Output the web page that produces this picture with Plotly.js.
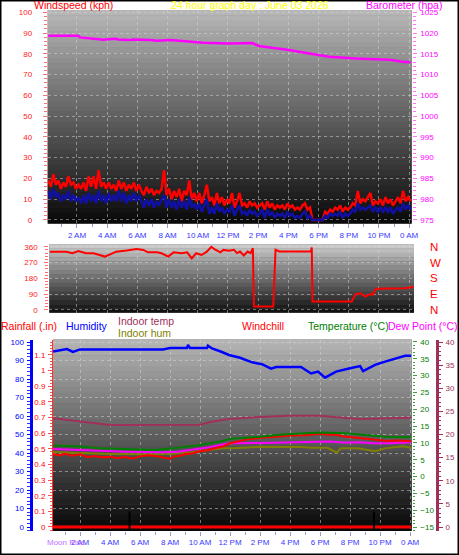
<!DOCTYPE html>
<html><head><meta charset="utf-8">
<script src="https://cdn.plot.ly/plotly-3.0.1.min.js"></script>
<style>html,body{margin:0;padding:0;background:#fff;}#chart{width:459px;height:555px;}</style>
</head><body><div id="chart"></div>
<script>
// ---------- data ----------
const hourTicks = [2,4,6,8,10,12,14,16,18,20,22,24];
const hourLabels = ['2 AM','4 AM','6 AM','8 AM','10 AM','12 PM','2 PM','4 PM','6 PM','8 PM','10 PM','0 AM'];

// wind speed, 10-minute samples starting 00:06
const windStart = 0.1, windStepH = 1/6;
const windGust = [
19,16,22,17,19,15,18,16,21,17,18,15,
17,15,18,14,21,16,21,15,24,16,18,15,
18,15,17,14,19,15,18,14,17,15,18,14,
17,14,12,16,13,15,12,14,13,15,24,12,
15,10,14,11,15,9,14,12,19,10,13,9,
13,8,12,17,9,11,7,13,8,11,7,10,
8,13,6,9,13,7,8,6,9,7,8,6,
7,8,5,9,6,8,5,7,6,7,5,8,
6,7,5,6,5,7,8,5,6,0,0,0,
0,0,4,3,5,4,6,5,7,4,6,5,
6,8,7,14,8,10,9,11,13,7,9,8,
10,7,11,8,10,7,9,11,8,14,9,11,
9];
const windAvg = [
14,10,15,11,13,9,12,10,14,9,12,9,
11,8,12,8,13,9,12,8,14,9,12,8,
13,9,12,9,14,9,13,8,12,9,13,9,
12,9,6,10,7,10,6,9,7,10,12,6,
10,6,9,5,10,6,9,5,11,6,8,5,
8,4,7,10,3,6,3,8,4,6,3,5,
4,7,2,5,7,3,4,2,5,3,4,2,
3,5,1,5,2,4,1,3,2,3,1,4,
2,3,1,2,1,3,4,1,2,0,0,0,
0,0,2,1,3,2,3,2,4,1,3,2,
3,5,4,8,5,6,5,6,7,4,6,4,
6,4,6,4,6,3,5,6,4,8,5,7,
5];
const windTime = windGust.map((_, i) => windStart + i * windStepH);

const baroTime = [0.1,2.09,2.2,3.19,3.74,4.52,4.74,5.4,5.73,6.83,7.28,8.16,8.82,9.7,10.36,12.07,13.6,14.05,14.93,16.04,16.7,17.36,18.25,18.69,20.46,22.66,23.54,24.1];
const baroVal  = [1019.36,1019.36,1018.95,1018.6,1018.4,1018.6,1018.45,1018.3,1018.45,1018.3,1018.15,1018.3,1018.1,1017.9,1017.67,1017.5,1017.6,1016.9,1016.5,1015.9,1015.5,1015.1,1014.7,1014.3,1013.9,1013.6,1013.1,1013.0];

const dirTime = [0.2,1.3,1.7,2.1,2.6,3.1,3.5,3.85,4.2,4.6,5.3,5.95,6.4,6.7,7.3,7.6,8.05,8.4,8.93,9.3,9.6,9.9,10.25,10.6,10.9,11.1,11.5,11.7,12.07,12.4,12.6,12.8,13.05,13.3,13.5,13.65,13.72,15.0,15.15,15.4,17.5,17.55,17.6,20.2,20.45,20.75,21.1,21.4,21.6,21.8,23.7,24.3];
const dirVal  = [332,332,323,336,323,323,313,304,317,332,338,347,342,328,328,323,304,328,323,328,294,323,313,332,360,347,328,342,337,343,324,333,310,333,324,352,19,19,343,333,333,356,48,48,90,95,76,90,86,120,124,130];
const compassVals = [0,90,180,270,360];
const compassText = ['N','E','S','W','N'];

const humTime = [0.2,1.13,1.53,2.0,7.53,8.0,9.13,9.2,9.33,10.47,10.53,10.8,11.33,11.93,12.67,13.47,14.13,14.73,15.07,16.73,17.4,17.87,18.33,19.07,20.0,20.67,20.87,21.67,22.33,23.0,23.67,24.07];
const humVal  = [94.8,96.2,94.6,96,96,96.8,96.8,98.4,96.8,96.8,98,96.5,95,93,91.5,89,88,85.6,86.5,86.5,83,84,80.7,84,85.8,87,84.3,87.6,89.4,91.2,92.6,92.6];

const inTempTime = [0.2,1.33,2.67,4.0,10.0,10.67,11.93,14.0,16.0,18.0,19.3,20.67,22.67,24.07];
const inTempVal  = [23.5,23.1,22.5,22.05,22.1,22.7,23.35,23.8,24.05,24.05,23.7,23.35,23.5,23.6];

const tempTime = [0.2,2.0,3.33,5.0,7.0,8.0,9.33,10.0,11.33,12.0,14.0,15.3,17.0,18.0,19.67,21.0,22.33,24.07];
const tempVal  = [9.2,8.9,8.4,8.2,7.9,8.3,8.9,9.4,10.4,11.2,11.8,12.4,12.9,13.1,12.9,12.3,11.8,11.7];

const chillTime = [0.2,0.6,1.0,1.5,2.0,2.5,3.0,3.5,4.0,4.5,5.0,5.5,6.0,6.5,7.0,7.5,8.0,8.3,8.7,9.0,9.5,10.0,10.5,11.0,11.5,12.0,12.5,13.0,13.5,14.0,15.0,16.0,17.0,17.5,18.0,18.5,19.0,19.5,20.0,20.5,21.0,21.5,22.0,22.5,23.0,24.07];
const chillVal  = [6.7,6.3,6.8,6.2,6.6,5.8,6.1,5.7,5.9,5.5,5.8,5.4,6.0,6.3,6.1,5.6,5.3,6.0,6.2,6.6,6.9,7.5,7.8,8.4,8.9,9.9,10.5,10.9,11.2,11.5,11.8,12.2,12.3,12.6,12.7,12.4,12.5,12.0,11.8,11.6,11.2,11.0,10.8,10.6,10.7,10.6];

const dewTime = [0.2,2.0,3.33,5.0,7.5,8.5,9.33,10.5,11.33,12.0,14.0,16.5,17.5,18.67,19.5,20.67,21.5,22.67,24.07];
const dewVal  = [8.2,7.9,7.6,7.4,7.2,7.4,7.9,8.6,9.4,9.9,10.0,10.2,10.3,10.4,10.1,10.2,9.9,9.9,10.2];

const inHumTime = [0.2,2,4,6,8,9.5,10.5,11.5,12.5,14,15.5,16.5,17.4,18.5,19.1,19.4,20.5,21.7,22.3,23.5,24.07];
const inHumVal  = [40.5,40,39.5,39.3,39.5,40.5,41.5,42.5,42.7,43.4,43.2,43.4,42.8,42.8,40.2,42.5,42.5,41,42.5,43.7,42.8];

const rainTime = [0.2,24.07];
const rainVal  = [0,0];

const moonEvents = [5.3,21.6];

// ---------- styling ----------
const F = 'Liberation Sans, Arial, sans-serif';
const GRID = 'rgba(215,215,215,0.5)';

function xax(domain, range, anchor, showLabels){
  return {domain, range, anchor, tickmode:'array', tickvals:hourTicks, ticktext:hourLabels,
    showticklabels:showLabels, tickfont:{family:F,size:8,color:'#3838ff'},
    ticks:'outside', ticklen:4, tickcolor:'#9a9ac8',
    minor:{dtick:1, tick0:0, ticks:'outside', ticklen:3, tickcolor:'#9a9ac8', showgrid:false},
    showgrid:true, gridcolor:GRID, griddash:'dot', gridwidth:1, zeroline:false, showline:false, fixedrange:true};
}

const shapes = [];
function stripes(xref, yref, n, top, bot){
  for(let i=0;i<n;i++){
    const g = Math.round(top + (bot-top)*i/(n-1));
    shapes.push({type:'rect', xref, yref, x0:0, x1:1, y0:1-(i+1)/n-0.002, y1:1-i/n,
      fillcolor:`rgb(${g},${g},${g})`, line:{width:0}, layer:'below'});
  }
}
stripes('x domain','y domain',40,182,10);
stripes('x2 domain','y3 domain',16,200,18);
stripes('x3 domain','y5 domain',36,180,8);
moonEvents.forEach(t => shapes.push({type:'line', xref:'x3', yref:'y5 domain', x0:t, x1:t, y0:0, y1:0.1, line:{color:'#000',width:2}, layer:'above'}));
shapes.push({type:'rect', xref:'paper', yref:'paper', x0:0,x1:1,y0:0,y1:1, line:{color:'#000',width:3}, layer:'above'});

const traces = [
  {x:windTime, y:windGust, xaxis:'x', yaxis:'y', mode:'lines', line:{color:'#ff0000',width:2.5}, hoverinfo:'skip'},
  {x:windTime, y:windAvg, xaxis:'x', yaxis:'y', mode:'lines', line:{color:'#1010a8',width:2.5}, hoverinfo:'skip'},
  {x:baroTime, y:baroVal, xaxis:'x', yaxis:'y2', mode:'lines', line:{color:'#ff00ff',width:2.5}, hoverinfo:'skip'},
  {x:dirTime, y:dirVal, xaxis:'x2', yaxis:'y3', mode:'lines', line:{color:'#ff0000',width:2}, hoverinfo:'skip'},
  {x:[], y:[], xaxis:'x2', yaxis:'y4', mode:'lines', hoverinfo:'skip'},
  {x:rainTime, y:rainVal, xaxis:'x3', yaxis:'y6', mode:'lines', line:{color:'#ff0000',width:3}, hoverinfo:'skip'},
  {x:inTempTime, y:inTempVal, xaxis:'x3', yaxis:'y8', mode:'lines', line:{color:'#a0305a',width:2}, hoverinfo:'skip'},
  {x:inHumTime, y:inHumVal, xaxis:'x3', yaxis:'y5', mode:'lines', line:{color:'#808000',width:2}, hoverinfo:'skip'},
  {x:dewTime, y:dewVal, xaxis:'x3', yaxis:'y7', mode:'lines', line:{color:'#ff00ff',width:2}, hoverinfo:'skip'},
  {x:chillTime, y:chillVal, xaxis:'x3', yaxis:'y7', mode:'lines', line:{color:'#ff0000',width:2}, hoverinfo:'skip'},
  {x:tempTime, y:tempVal, xaxis:'x3', yaxis:'y7', mode:'lines', line:{color:'#008000',width:2}, hoverinfo:'skip'},
  {x:humTime, y:humVal, xaxis:'x3', yaxis:'y5', mode:'lines', line:{color:'#0000ff',width:2.5}, hoverinfo:'skip'}
];

function ann(text, xpx, ypx, color, size, anchor){
  return {text, xref:'paper', yref:'paper', x:xpx/459, y:1-ypx/555, xanchor:anchor||'left', yanchor:'middle',
    showarrow:false, font:{family:F,size:size||10.5,color}, borderpad:0};
}
const annotations = [
  ann('Windspeed (kph)', 33, 5, '#ff0000'),
  ann('24 hour graph day : June 03 2026', 170, 5, '#ffff00'),
  ann('Barometer (hpa)', 365, 5, '#ff00ff'),
  ann('Rainfall (.in)', 0, 326, '#ff0000'),
  ann('Humidity', 65, 326, '#0000ff'),
  ann('Indoor temp', 117, 320.5, '#a0305a'),
  ann('Indoor hum', 117, 332.5, '#808000'),
  ann('Windchill', 241, 326, '#ff0000'),
  ann('Temperature (°C)', 307, 326, '#008000'),
  ann('Dew Point (°C)', 387, 326, '#ff00ff'),
  ann('Moon Rise', 46, 542, '#c070ff', 8)
];

const layout = {
  width:459, height:555, margin:{l:0,r:0,t:0,b:0}, showlegend:false,
  paper_bgcolor:'#ffffff', plot_bgcolor:'#606060',
  xaxis: xax([47.7/459, 411.7/459], [0.06, 24.17], 'y', true),
  yaxis: {domain:[1-223.3/555, 1-10/555], range:[-1.6,101.1], anchor:'x', tickvals:[0,10,20,30,40,50,60,70,80,90,100],
    tickfont:{family:F,size:8,color:'#ff2020'}, ticks:'outside', ticklen:4, tickcolor:'#ff7070', ticklabelstandoff:9,
    minor:{dtick:2, ticks:'outside', ticklen:3, tickcolor:'#ff7070', showgrid:false},
    showgrid:true, gridcolor:GRID, griddash:'dot', zeroline:false, showline:false, fixedrange:true},
  yaxis2: {overlaying:'y', side:'right', anchor:'x', range:[974.2,1025.55], tickvals:[975,980,985,990,995,1000,1005,1010,1015,1020,1025],
    tickfont:{family:F,size:8,color:'#ff00ff'}, ticks:'outside', ticklen:4, tickcolor:'#ff70ff', ticklabelstandoff:2,
    minor:{dtick:1, ticks:'outside', ticklen:3, tickcolor:'#ff70ff', showgrid:false},
    showgrid:false, zeroline:false, showline:false, fixedrange:true},
  xaxis2: Object.assign(xax([49.3/459, 414/459], [0.17, 24.32], 'y3', false), {ticks:'', minor:{ticks:''}}),
  yaxis3: {domain:[1-312.7/555, 1-244.3/555], range:[-16,374], anchor:'x2', tickvals:compassVals,
    tickfont:{family:F,size:8,color:'#ff2020'}, ticks:'outside', ticklen:4, tickcolor:'#ff7070', ticklabelstandoff:5,
    minor:{dtick:18, ticks:'outside', ticklen:3, tickcolor:'#ff7070', showgrid:false},
    showgrid:true, gridcolor:GRID, griddash:'dot', zeroline:false, showline:false, fixedrange:true},
  yaxis4: {overlaying:'y3', side:'right', anchor:'x2', range:[-16,374], tickvals:compassVals, ticktext:compassText,
    tickfont:{family:F,size:11.5,color:'#ff0000'}, ticks:'', ticklabelstandoff:15,
    showgrid:false, zeroline:false, showline:false, fixedrange:true},
  xaxis3: xax([53/459, 411.7/459], [0.2, 24.11], 'y5', true),
  yaxis5: {domain:[1-530.7/555, 1-339.5/555], range:[-2.0,101.35], anchor:'free', position:30.5/459, side:'left',
    tickvals:[0,10,20,30,40,50,60,70,80,90,100],
    tickfont:{family:F,size:8,color:'#0000ff'}, ticks:'outside', ticklen:3, tickcolor:'#0000ff', ticklabelstandoff:1,
    minor:{dtick:2, ticks:'outside', ticklen:3, tickcolor:'#3030ff', showgrid:false},
    showline:true, linecolor:'#0000ff', linewidth:3,
    showgrid:true, gridcolor:GRID, griddash:'dot', zeroline:false, fixedrange:true},
  yaxis6: {overlaying:'y5', side:'left', anchor:'x3', range:[-0.0237,1.199], tickvals:[0,0.1,0.2,0.3,0.4,0.5,0.6,0.7,0.8,0.9,1,1.1,1.2],
    tickfont:{family:F,size:8,color:'#ff0000'}, ticks:'outside', ticklen:4, tickcolor:'#ff5050', ticklabelstandoff:1,
    minor:{dtick:0.02, ticks:'outside', ticklen:2, tickcolor:'#ff5050', showgrid:false},
    showline:true, linecolor:'#ff3030', linewidth:1,
    showgrid:false, zeroline:false, fixedrange:true},
  yaxis7: {overlaying:'y5', side:'right', anchor:'x3', range:[-16.1,40.74], tickvals:[-15,-10,-5,0,5,10,15,20,25,30,35,40],
    tickfont:{family:F,size:8,color:'#008000'}, ticks:'outside', ticklen:4, tickcolor:'#40a040', ticklabelstandoff:2,
    minor:{dtick:1, ticks:'outside', ticklen:2, tickcolor:'#40a040', showgrid:false},
    showgrid:false, zeroline:false, showline:false, fixedrange:true},
  yaxis8: {overlaying:'y5', side:'right', anchor:'free', position:437/459, range:[-0.8,40.54], tickvals:[0,5,10,15,20,25,30,35,40],
    tickfont:{family:F,size:8,color:'#a0305a'}, ticks:'outside', ticklen:4, tickcolor:'#a0305a', ticklabelstandoff:1,
    minor:{dtick:1, ticks:'outside', ticklen:2, tickcolor:'#a0305a', showgrid:false},
    showline:true, linecolor:'#a0305a', linewidth:3,
    showgrid:false, zeroline:false, fixedrange:true},
  shapes, annotations
};

Plotly.newPlot('chart', traces, layout, {staticPlot:true, displayModeBar:false});
</script></body></html>
